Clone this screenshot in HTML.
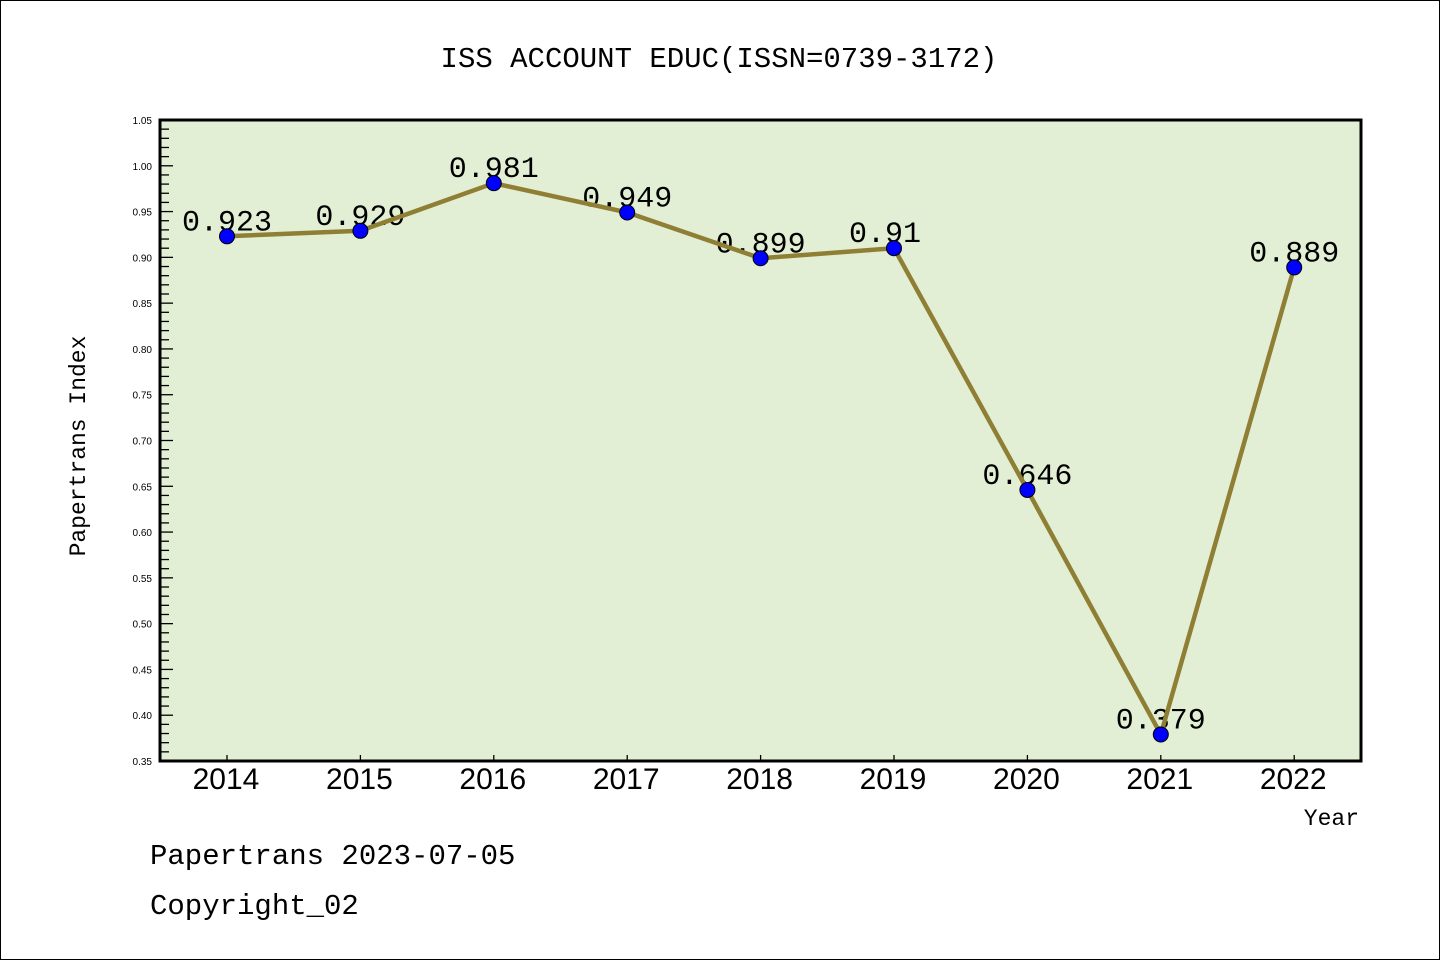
<!DOCTYPE html>
<html><head><meta charset="utf-8"><style>
html,body{margin:0;padding:0;background:#fff;}
svg{display:block;}
</style></head><body>
<svg id="chart" width="1440" height="960" xmlns="http://www.w3.org/2000/svg">
<rect x="0.5" y="0.5" width="1439" height="959" fill="#fff" stroke="#000" stroke-width="1"/>
<text x="719" y="67" text-anchor="middle" font-family="Liberation Mono, monospace" font-size="29" fill="#000">ISS ACCOUNT EDUC(ISSN=0739-3172)</text>
<rect x="160" y="120" width="1201" height="641" fill="#e2efd5"/>
<g id="yaxis"></g>
<g id="xaxis"></g>
<g id="series"></g>
<rect x="160" y="120" width="1201" height="641" fill="none" stroke="#000" stroke-width="3"/>
<text transform="translate(85,446) rotate(-90)" text-anchor="middle" font-family="Liberation Mono, monospace" font-size="23" fill="#000">Papertrans Index</text>
<text x="1359" y="825" text-anchor="end" font-family="Liberation Mono, monospace" font-size="23" fill="#000">Year</text>
<text x="150" y="864" font-family="Liberation Mono, monospace" font-size="29" fill="#000">Papertrans 2023-07-05</text>
<text x="150" y="914" font-family="Liberation Mono, monospace" font-size="29" fill="#000">Copyright_02</text>
</svg>
<script>
const years = ["2014","2015","2016","2017","2018","2019","2020","2021","2022"];
const values = [0.923,0.929,0.981,0.949,0.899,0.91,0.646,0.379,0.889];
const valueLabels = ["0.923","0.929","0.981","0.949","0.899","0.91","0.646","0.379","0.889"];
const yTicks = ["0.35","0.40","0.45","0.50","0.55","0.60","0.65","0.70","0.75","0.80","0.85","0.90","0.95","1.00","1.05"];

const NS="http://www.w3.org/2000/svg";
const X0=227, XSTEP=133.4, YMIN=0.35, YMAX=1.05, PT=120, PB=761;
function xs(i){return X0+i*XSTEP;}
function ys(v){return PB-(v-YMIN)/(YMAX-YMIN)*(PB-PT);}
function mk(tag,attrs,parent){const e=document.createElementNS(NS,tag);for(const k in attrs)e.setAttribute(k,attrs[k]);parent.appendChild(e);return e;}

const ya=document.getElementById('yaxis');
for(let k=0;k<=70;k++){
  const v=YMIN+k*0.01, y=ys(v);
  const major=k%5===0;
  const t=mk('line',{x1:160,x2:160+(major?13:9),y1:y,y2:y,stroke:'#000','stroke-width':1.3},ya);
  
  
}
yTicks.forEach(function(s){
  const tx=mk('text',{x:152,y:ys(parseFloat(s))+4,'text-anchor':'end','font-family':'Liberation Sans, sans-serif','font-size':10,fill:'#000'},ya);
  tx.textContent=s;
  
  
});

const xa=document.getElementById('xaxis');
years.forEach(function(yr,i){
  const t=mk('line',{x1:xs(i),x2:xs(i),y1:PB,y2:PB-6,stroke:'#000','stroke-width':1.3},xa);
  
  
  const tx=mk('text',{x:xs(i)-1,y:789,'text-anchor':'middle','font-family':'Liberation Sans, sans-serif','font-size':30,fill:'#000'},xa);
  tx.textContent=yr;
  
  
});

const sg=document.getElementById('series');
values.forEach(function(v,i){
  const tx=mk('text',{x:xs(i)-45,y:ys(v)-6,'font-family':'Liberation Mono, monospace','font-size':30,fill:'#000'},sg);
  tx.textContent=valueLabels[i];
  
  
});
const pts=values.map(function(v,i){return xs(i)+','+ys(v);}).join(' ');
const pl=mk('polyline',{points:pts,fill:'none',stroke:'#8f7f35','stroke-width':4.5,'stroke-linejoin':'round'},sg);


values.forEach(function(v,i){
  const c=mk('circle',{cx:xs(i),cy:ys(v),r:7.5,fill:'#0000ff',stroke:'#000','stroke-width':1},sg);
  
  
});
</script>
</body></html>
